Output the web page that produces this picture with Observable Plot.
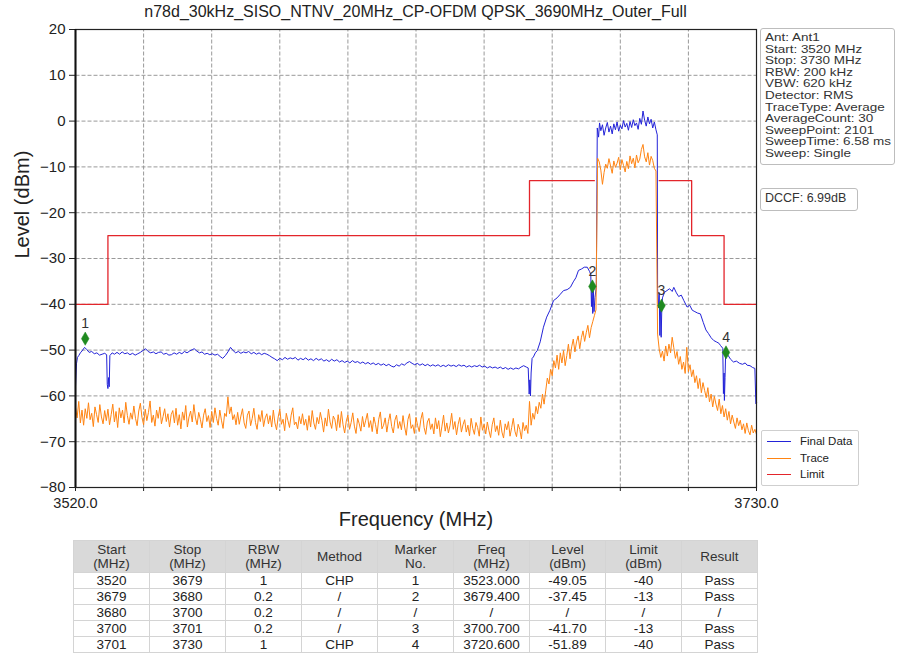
<!DOCTYPE html>
<html>
<head>
<meta charset="utf-8">
<script src="https://cdn.jsdelivr.net/npm/d3@7"></script>
<script src="https://cdn.jsdelivr.net/npm/@observablehq/plot@0.6"></script>
<style>
  html, body { margin: 0; padding: 0; background: #fff; }
  #wrap { position: relative; width: 897px; height: 656px; overflow: hidden; font-family: "Liberation Sans", Arial, sans-serif; color: #222; }
  #chart { position: absolute; left: 0; top: 0; }
  #title { position: absolute; left: 0; top: 3px; width: 831px; text-align: center; font-size: 16px; line-height: 18px; color: #222; white-space: nowrap; }
  #info { position: absolute; left: 760px; top: 28px; width: 129px; height: 132px; border: 1px solid #bdbdbd; border-radius: 3px; padding: 3px 0 0 4px; font-size: 11.5px; line-height: 11.6px; color: #333; white-space: nowrap; }
  #info div { height: 11.6px; transform: scaleX(1.17); transform-origin: 0 50%; }
  #dccf { position: absolute; left: 760px; top: 188px; width: 92px; height: 19px; border: 1px solid #bdbdbd; border-radius: 3px; padding: 2px 0 0 4px; font-size: 12.5px; line-height: 14px; color: #333; white-space: nowrap; }
  #legend { position: absolute; left: 761px; top: 430px; width: 96px; height: 54px; border: 1px solid #cfcfcf; border-radius: 2px; background: #fff; font-size: 11.5px; color: #222; }
  .lg { position: absolute; left: 0; height: 14px; width: 96px; }
  .lg i { position: absolute; left: 5px; top: 7px; width: 24px; height: 0; border-top: 1.5px solid; }
  .lg span { position: absolute; left: 38px; top: 0; line-height: 14px; }
  #tbl { position: absolute; left: 73px; top: 540px; width: 684px; border-collapse: collapse; table-layout: fixed; font-size: 13.5px; color: #222; }
  #tbl th, #tbl td { border: 1px solid #d4d4d4; text-align: center; padding: 0; overflow: hidden; white-space: nowrap; }
  #tbl th { background: #d9d9d9; font-weight: normal; height: 31px; line-height: 14px; color: #333; }
  #tbl td { height: 15px; line-height: 15px; }
</style>
</head>
<body>
<div id="wrap">
  <div id="chart"></div>
  <div id="title"></div>
  <div id="info"></div>
  <div id="dccf"></div>
  <div id="legend"></div>
  <table id="tbl"></table>
</div>
<script>
// ---------- texts ----------
const titleText = "n78d_30kHz_SISO_NTNV_20MHz_CP-OFDM QPSK_3690MHz_Outer_Full";
const infoLines = ["Ant: Ant1", "Start: 3520 MHz", "Stop: 3730 MHz", "RBW: 200 kHz", "VBW: 620 kHz",
  "Detector: RMS", "TraceType: Average", "AverageCount: 30", "SweepPoint: 2101", "SweepTime: 6.58 ms", "Sweep: Single"];
const dccfText = "DCCF: 6.99dB";
const seriesNames = ["Final Data", "Trace", "Limit"];
const seriesColors = ["#2323d8", "#ff8412", "#e3252b"];
const xLabel = "Frequency (MHz)";
const yLabel = "Level (dBm)";

// ---------- axes ----------
const xDomain = [3520, 3730];
const yDomain = [-80, 20];
const xGrid = [3520, 3541, 3562, 3583, 3604, 3625, 3646, 3667, 3688, 3709, 3730];
const xTickLabels = [3520, 3730];
const yTicks = [20, 10, 0, -10, -20, -30, -40, -50, -60, -70, -80];

// ---------- Trace (orange), sampled every 0.5 MHz from 3520 MHz ----------
const traceStart = 3520;
const traceStep = 0.5;
const traceLevel = [
  -62.5,-64.8,-61.2,-65.9,-63.1,-66.4,-62.8,-64.9,-61.5,-65.2,-63.8,-66.7,-62.4,-64.1,-65.8,-61.9,-64.6,-66.1,-63.2,-65.4,
  -62.9,-66.3,-64.1,-61.8,-65.7,-63.4,-66.9,-62.6,-64.8,-63.1,-65.9,-61.4,-64.3,-66.2,-63.7,-65.1,-62.2,-64.9,-66.5,-63.3,
  -61.6,-64.7,-66.3,-62.9,-65.4,-63.6,-61.1,-65.8,-64.2,-66.6,-63.1,-64.9,-62.4,-66.1,-64.5,-62.8,-65.6,-63.9,-66.8,-64.1,
  -63.2,-65.9,-62.7,-66.4,-64.1,-67.2,-63.5,-65.3,-62.1,-66.8,-64.6,-63.3,-65.7,-61.9,-64.8,-66.3,-63.6,-65.1,-67.0,-64.2,
  -62.8,-65.6,-64.3,-66.9,-63.4,-65.8,-62.6,-64.9,-66.4,-63.1,-65.3,-67.1,-63.8,-64.5,-60.2,-63.9,-62.4,-65.2,-64.1,-66.3,
  -63.6,-66.2,-64.4,-62.8,-65.9,-67.1,-64.2,-63.3,-66.5,-64.9,-62.7,-65.8,-67.3,-64.1,-65.6,-63.2,-66.7,-64.8,-63.9,-66.1,
  -64.3,-66.8,-63.1,-65.9,-67.4,-64.6,-62.9,-66.2,-65.1,-67.6,-63.8,-65.4,-66.9,-64.2,-62.6,-66.3,-65.7,-67.2,-64.5,-66.1,
  -63.9,-66.4,-65.1,-67.5,-64.3,-66.8,-63.2,-65.9,-67.3,-64.7,-66.1,-63.6,-65.4,-67.9,-64.8,-66.6,-62.9,-65.7,-67.1,-64.4,
  -65.2,-67.6,-64.1,-66.9,-63.4,-66.3,-68.1,-65.5,-64.2,-67.3,-65.8,-63.7,-66.6,-68.2,-64.9,-66.1,-67.7,-64.5,-66.8,-65.3,
  -63.8,-66.9,-65.4,-67.8,-64.6,-66.2,-68.3,-65.1,-63.5,-67.2,-66.4,-64.8,-67.9,-65.6,-63.9,-66.7,-68.1,-65.3,-64.2,-67.1,
  -65.6,-67.4,-64.3,-66.8,-68.6,-65.2,-63.9,-67.1,-66.3,-68.2,-64.7,-66.5,-67.8,-65.1,-63.6,-66.9,-68.4,-65.7,-64.9,-67.3,
  -66.1,-68.3,-64.8,-67.2,-65.4,-68.9,-66.6,-64.2,-67.7,-65.9,-68.1,-66.4,-63.8,-67.3,-65.6,-68.5,-66.2,-64.7,-67.9,-66.3,
  -65.2,-67.9,-66.4,-68.7,-64.9,-67.1,-68.4,-65.8,-66.9,-68.8,-64.6,-67.5,-66.2,-68.3,-65.7,-67.6,-69.1,-66.3,-64.8,-67.8,
  -66.5,-68.6,-65.3,-67.9,-69.2,-66.1,-67.4,-65.6,-68.8,-66.9,-64.9,-67.7,-68.9,-66.2,-67.3,-69.4,-65.8,-67.6,-66.4,-68.2,
  -61.2,-66.4,-63.8,-65.1,-62.3,-63.9,-61.4,-62.7,-59.6,-61.8,-58.9,-56.1,-57.4,-54.2,-55.6,-52.3,-53.9,-51.1,-54.2,-50.6,
  -52.8,-50.1,-53.4,-51.2,-48.7,-51.9,-49.3,-47.6,-50.4,-48.2,-46.9,-49.7,-47.3,-45.8,-48.1,-46.2,-44.6,-47.3,-45.1,-43.8,
  -42.5,-41.2,-8.1,-8.9,-10.7,-13.8,-11.2,-9.4,-10.3,-8.2,-9.8,-11.4,-8.7,-10.1,-9.2,-7.9,-10.6,-8.4,-9.7,-11.1,
  -8.8,-10.4,-7.6,-9.3,-8.1,-10.2,-7.4,-9.1,-8.3,-6.2,-5.1,-7.8,-8.9,-6.9,-9.6,-7.7,-8.6,-10.3,-10.9,-46.5,
  -49.8,-51.6,-50.2,-52.4,-49.1,-51.3,-48.7,-50.6,-47.2,-49.5,-51.8,-50.3,-53.1,-51.4,-54.2,-52.6,-55.1,-49.4,-54.7,-53.2,
  -55.8,-54.3,-57.1,-55.6,-58.4,-56.2,-59.3,-57.1,-58.8,-60.4,-58.2,-61.3,-59.6,-62.4,-60.1,-61.8,-63.2,-60.7,-63.9,-62.1,
  -64.6,-62.8,-65.3,-63.4,-66.1,-64.2,-65.7,-67.1,-64.8,-66.5,-65.3,-67.4,-66.1,-68.2,-65.9,-67.6,-68.5,-66.4,-68.1,-67.3,
  -68.4
];

// ---------- Final Data (blue): [MHz, dBm] ----------
const finalData = [
  [3520,-58],[3520.3,-53],[3520.6,-51.6],[3521,-51.2],[3521.5,-50.6],[3522,-50.2],[3522.8,-49.4],[3523.5,-49.9],
  [3524.2,-50.5],[3525,-50.3],[3525.8,-50.8],[3526.6,-50.6],[3527.4,-51.1],[3528.2,-50.9],[3529,-50.7],[3529.6,-51],
  [3529.8,-57.5],[3530,-58.4],[3530.2,-56],[3530.4,-58],[3530.6,-51.2],[3531.3,-50.6],[3532,-50.9],[3532.8,-50.5],
  [3533.6,-50.9],[3534.4,-50.4],[3535.2,-50.8],[3536,-50.6],[3536.8,-51],[3537.6,-50.7],[3538.4,-51.1],[3539.2,-50.8],
  [3540,-50.5],[3540.8,-50.1],[3541.6,-49.7],[3542.4,-50.3],[3543.2,-50.6],[3544,-50.4],[3544.8,-50.8],[3545.6,-50.5],
  [3546.4,-50.4],[3547.2,-50.9],[3548,-50.7],[3548.8,-51.1],[3549.6,-51],[3550.4,-50.6],[3551.2,-50.9],[3552,-50.5],
  [3552.8,-50.8],[3553.6,-50.3],[3554.4,-50.6],[3555.2,-50.2],[3556,-49.9],[3556.6,-49.7],[3557.4,-50.2],[3558.2,-50.6],
  [3559,-50.4],[3559.8,-50.9],[3560.6,-50.7],[3561.4,-51],[3562.2,-50.8],[3563,-51.1],[3563.8,-50.9],[3564.6,-51.4],
  [3565.4,-51.8],[3566.2,-51.2],[3567,-50.4],[3567.8,-49.4],[3568.6,-50.1],[3569.4,-50.6],[3570.2,-50.3],[3571,-50.7],
  [3571.8,-50.4],[3572.6,-50.6],[3573.4,-50.3],[3574.2,-50.8],[3575,-50.5],[3575.8,-50.9],[3576.6,-50.6],[3577.4,-51],
  [3578.2,-50.7],[3579,-50.9],[3579.8,-51.2],[3580.6,-51.6],[3581.4,-51.9],[3582.2,-52.3],[3583,-51.8],[3583.8,-52.1],
  [3584.6,-51.6],[3585.4,-52],[3586.2,-51.7],[3587,-51.9],[3587.8,-51.6],[3588.6,-52.2],[3589.4,-51.8],[3590.2,-52.1],
  [3591,-51.7],[3591.8,-52.2],[3592.6,-51.9],[3593.4,-52.3],[3594.2,-51.8],[3595,-52.2],[3595.8,-51.9],[3596.6,-52.4],
  [3597.4,-52.1],[3598.2,-52.5],[3599,-52],[3599.8,-52.4],[3600.6,-52.1],[3601.4,-52.6],[3602.2,-52.3],[3603,-52.7],
  [3603.8,-52.4],[3604.6,-52.8],[3605.4,-52.3],[3606.2,-52.7],[3607,-52.5],[3607.8,-52.9],[3608.6,-52.6],[3609.4,-53],
  [3610.2,-52.7],[3611,-53.1],[3611.8,-52.8],[3612.6,-53.2],[3613.4,-52.9],[3614.2,-53.3],[3615,-53],[3615.8,-53.4],
  [3616.6,-53.1],[3617.4,-53.5],[3618.2,-53.7],[3619,-53.2],[3619.8,-53.5],[3620.6,-53],[3621.4,-53.3],[3622.2,-52.8],
  [3623,-52.5],[3623.8,-52.9],[3624.6,-53.2],[3625.4,-52.9],[3626.2,-53.3],[3627,-53],[3627.8,-53.4],[3628.6,-53.1],
  [3629.4,-53.5],[3630.2,-53.2],[3631,-53.5],[3631.8,-53.2],[3632.6,-53.6],[3633.4,-53.3],[3634.2,-53.6],[3635,-53.2],
  [3635.8,-53.5],[3636.6,-53.3],[3637.4,-53.6],[3638.2,-53.2],[3639,-53.5],[3639.8,-53.3],[3640.6,-53.7],[3641.4,-53.4],
  [3642.2,-53.7],[3643,-53.4],[3643.8,-53.6],[3644.6,-53.3],[3645.4,-53.7],[3646.2,-53.5],[3647,-53.9],[3647.8,-53.6],
  [3648.6,-53.9],[3649.4,-53.7],[3650.2,-54],[3651,-53.7],[3651.8,-54.1],[3652.6,-53.8],[3653.4,-54.2],[3654.2,-53.9],
  [3655,-54.2],[3655.8,-53.9],[3656.6,-54.1],[3657.4,-53.7],[3658.2,-53.4],[3659,-53.7],[3659.6,-53.9],[3659.9,-59.6],
  [3660.1,-56.5],[3660.3,-60],[3660.5,-55],[3660.8,-51.8],[3661.2,-51.5],[3661.8,-50.6],[3662.4,-50.1],[3663.3,-48.2],
  [3664.3,-45],[3665.3,-42.8],[3666.3,-41.3],[3667.4,-39.2],[3668.5,-38.6],[3669.5,-37.8],[3670.5,-37],[3671.6,-36.8],
  [3672.6,-36.3],[3673.5,-35.1],[3674.3,-34.2],[3675.1,-32.6],[3676,-32.3],[3676.9,-31.9],[3677.8,-31.9],[3678.5,-32.8],
  [3678.9,-33.5],[3679.1,-40.5],[3679.3,-35.8],[3679.5,-42],[3679.7,-37],[3679.9,-41.6],[3680.2,-38.5],[3680.6,-36.2],
  [3680.9,-1.5],[3681.3,-3.5],[3681.6,-0.4],[3682,-2.1],[3682.5,-0.8],[3683,-3.1],[3683.5,-1.5],[3684,-0.3],
  [3684.5,-2.4],[3685,-1.1],[3685.5,-2.8],[3686,-0.6],[3686.5,-1.9],[3687,-0.2],[3687.5,-2.2],[3688,-0.9],
  [3688.5,-1.7],[3689,0.1],[3689.5,-1.3],[3690,-0.5],[3690.5,-2],[3691,-0.1],[3691.5,-1.4],[3692,0.3],
  [3692.5,-1],[3693,-0.4],[3693.5,-1.8],[3694,0.6],[3694.5,-0.7],[3695,2.2],[3695.5,0.2],[3696,-1.1],
  [3696.5,0.9],[3697,-0.6],[3697.5,0.4],[3698,-1.5],[3698.5,-0.2],[3699,-1.9],[3699.4,-3],
  [3699.5,-36.5],[3699.8,-40.8],[3700,-37.6],[3700.2,-46.8],[3700.4,-39.5],[3700.6,-47.2],[3700.8,-41],[3701,-38.6],
  [3701.6,-37.4],[3702.4,-37],[3703.2,-36.6],[3704,-37.2],[3704.5,-36.3],[3705.3,-37.5],[3706,-38.3],[3706.8,-38],
  [3707.6,-39.2],[3708.6,-40.6],[3709.4,-40.2],[3710.2,-41.3],[3711,-41.6],[3711.8,-41.9],[3712.7,-42.1],[3713.6,-44],
  [3714.4,-45.6],[3715.2,-46.4],[3716,-47.3],[3716.8,-47.9],[3717.6,-48.2],[3718.4,-48.5],[3718.9,-49],[3719.6,-49.6],
  [3719.8,-59.5],[3720,-55],[3720.1,-61],[3720.3,-56],[3720.5,-50.3],[3721,-50.9],[3722,-52],[3722.9,-52.6],
  [3723.8,-52.4],[3724.8,-52.9],[3725.7,-53.1],[3726.5,-52.8],[3727.1,-53.3],[3728,-53.4],[3728.8,-53.8],[3729.5,-54],
  [3729.8,-61.7],[3730,-61.5]
];

// ---------- Limit (red) ----------
const limitLower = [[3520,-40],[3530,-40],[3530,-25],[3660,-25],[3660,-13],[3680,-13]];
const limitUpper = [[3700,-13],[3710,-13],[3710,-25],[3720,-25],[3720,-40],[3730,-40]];

// ---------- Markers ----------
const markerNo = ["1", "2", "3", "4"];
const markerFreq = [3523.0, 3679.4, 3700.7, 3720.6];
const markerShownLevel = [-47.5, -36.1, -40.3, -50.5];

// ---------- Table ----------
const tblHeader = ["Start<br>(MHz)", "Stop<br>(MHz)", "RBW<br>(MHz)", "Method", "Marker<br>No.", "Freq<br>(MHz)", "Level<br>(dBm)", "Limit<br>(dBm)", "Result"];
const tblStart = ["3520", "3679", "3680", "3700", "3701"];
const tblStop = ["3679", "3680", "3700", "3701", "3730"];
const tblRBW = ["1", "0.2", "0.2", "0.2", "1"];
const tblMethod = ["CHP", "/", "/", "/", "CHP"];
const tblMarker = ["1", "2", "/", "3", "4"];
const tblFreq = ["3523.000", "3679.400", "/", "3700.700", "3720.600"];
const tblLevel = ["-49.05", "-37.45", "/", "-41.70", "-51.89"];
const tblLimit = ["-40", "-13", "/", "-13", "-40"];
const tblResult = ["Pass", "Pass", "/", "Pass", "Pass"];

// ---------- build ----------
const FONT = '"Liberation Sans", Arial, sans-serif';
const [BLUE, ORANGE, RED] = seriesColors;
const traceRows = traceLevel.map((v, i) => ({f: traceStart + i * traceStep, v}));
const finalRows = finalData.map(([f, v]) => ({f, v}));
const limitRows = [
  ...limitLower.map(([f, v]) => ({f, v, seg: "a"})),
  ...limitUpper.map(([f, v]) => ({f, v, seg: "b"}))
];
const markerRows = markerNo.map((n, i) => ({n, f: markerFreq[i], v: markerShownLevel[i]}));
const gridXRows = xGrid.slice(1, -1).map(f => ({f, y1: yDomain[0], y2: yDomain[1]}));
const gridYRows = yTicks.slice(1, -1).map(v => ({v, x1: xDomain[0], x2: xDomain[1]}));

const chart = Plot.plot({
  width: 897,
  height: 535,
  marginLeft: 75,
  marginRight: 141,
  marginTop: 29,
  marginBottom: 48,
  x: {domain: xDomain},
  y: {domain: yDomain},
  style: {fontFamily: FONT, color: "#222", background: "transparent", overflow: "visible"},
  marks: [
    Plot.link(gridXRows, {x1: "f", x2: "f", y1: "y1", y2: "y2", stroke: "#999999", strokeOpacity: 1, strokeWidth: 1, strokeDasharray: "4 2"}),
    Plot.link(gridYRows, {x1: "x1", x2: "x2", y1: "v", y2: "v", stroke: "#999999", strokeOpacity: 1, strokeWidth: 1, strokeDasharray: "4 2"}),
    Plot.line(finalRows, {x: "f", y: "v", stroke: BLUE, strokeWidth: 1}),
    Plot.line(traceRows, {x: "f", y: "v", stroke: ORANGE, strokeWidth: 1}),
    Plot.line(limitRows, {x: "f", y: "v", z: "seg", stroke: RED, strokeWidth: 1.3}),
    Plot.dot(markerRows, {x: "f", y: "v", symbol: "diamond", r: 4, fill: "#1f8a1f", stroke: "#1f8a1f", strokeWidth: 0.5}),
    Plot.text(markerRows, {x: "f", y: "v", text: "n", dy: -15, fontSize: 14, fill: "#333"}),
    Plot.axisY({ticks: yTicks, tickSize: 6, tickPadding: 4, fontSize: 15, label: null, tickFormat: d => d < 0 ? "\u2212" + Math.abs(d) : String(d)}),
    Plot.axisX({ticks: xGrid, tickSize: 4, tickPadding: 6, fontSize: 14.5, label: null,
      tickFormat: d => xTickLabels.includes(d) ? d.toFixed(1) : ""}),
    Plot.frame({stroke: "#222", strokeWidth: 1.2}),
    Plot.ruleX([xDomain[0]], {stroke: "#111", strokeWidth: 2}),
    Plot.text([xLabel], {text: d => d, frameAnchor: "bottom", dy: 38, fontSize: 20, fill: "#222"}),
    Plot.text([yLabel], {text: d => d, frameAnchor: "left", dx: -53, rotate: -90, fontSize: 20, fill: "#222"})
  ]
});
document.getElementById("chart").appendChild(chart);

document.getElementById("title").textContent = titleText;
document.getElementById("info").innerHTML = infoLines.map(s => `<div>${s}</div>`).join("");
document.getElementById("dccf").textContent = dccfText;
document.getElementById("legend").innerHTML = seriesNames.map((s, i) =>
  `<div class="lg" style="top:${3 + i * 16.7}px"><i style="border-color:${seriesColors[i]}"></i><span>${s}</span></div>`).join("");

const cols = [tblStart, tblStop, tblRBW, tblMethod, tblMarker, tblFreq, tblLevel, tblLimit, tblResult];
let html = "<colgroup>" + tblHeader.map(() => '<col style="width:76px">').join("") + "</colgroup>";
html += "<tr>" + tblHeader.map(h => `<th>${h}</th>`).join("") + "</tr>";
for (let r = 0; r < tblStart.length; r++) {
  html += "<tr>" + cols.map(c => `<td>${c[r]}</td>`).join("") + "</tr>";
}
document.getElementById("tbl").innerHTML = html;
</script>
</body>
</html>
